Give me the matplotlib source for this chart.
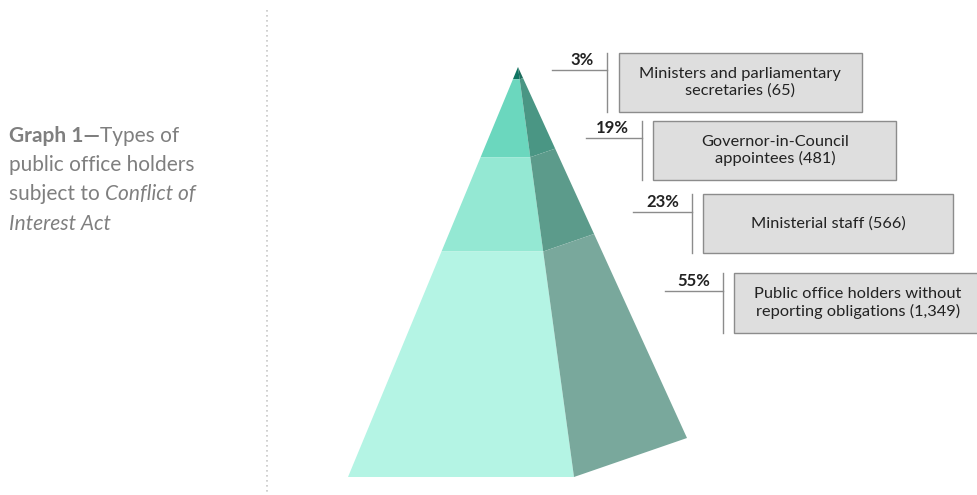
import matplotlib.pyplot as plt
from matplotlib.patches import Polygon, Rectangle

plt.rcParams['font.family'] = ['Lato', 'DejaVu Sans']

# data
categories = ['Ministers and parliamentary\nsecretaries', 'Governor-in-Council\nappointees',
              'Ministerial staff', 'Public office holders without\nreporting obligations']
counts = [65, 481, 566, 1349]
shares = [3, 19, 23, 55]

front_colors = ['#0f7562', '#6bd7be', '#94e8d3', '#b4f4e4']
side_colors = ['#1e6e5e', '#4a9684', '#5c9b8b', '#79a89c']

fig = plt.figure(figsize=(9.78, 4.95), dpi=100)
ax = fig.add_axes([0, 0, 1, 1])
ax.set_xlim(0, 978)
ax.set_ylim(495, 0)
ax.axis('off')

# pyramid corners (pixel-like coords)
apex = (518, 67)
base_left = (348, 477)
base_front = (574, 477)
base_right = (687, 438)


def along(p, t):
    return (apex[0] + t * (p[0] - apex[0]), apex[1] + t * (p[1] - apex[1]))


total = sum(shares)
t0 = 0.0
for s, fc, sc in zip(shares, front_colors, side_colors):
    t1 = t0 + s / total
    front = [along(base_left, t0), along(base_front, t0), along(base_front, t1), along(base_left, t1)]
    side = [along(base_front, t0), along(base_right, t0), along(base_right, t1), along(base_front, t1)]
    ax.add_patch(Polygon(front, closed=True, facecolor=fc, edgecolor='none'))
    ax.add_patch(Polygon(side, closed=True, facecolor=sc, edgecolor='none'))
    t0 = t1

# callouts: (hline start, vline x, box left, box right, top, bottom, hline y, text centre x)
callouts = [
    (552, 607, 619, 862, 53, 112, 70, 740),
    (586, 642, 653, 896, 121, 180, 138, 775),
    (633, 692, 703, 953, 194, 253, 212, 828),
    (665, 723, 734, 990, 273, 333, 291, 858),
]
for (hx, vx, bl, br, top, bot, hy, cx), cat, n, s in zip(callouts, categories, counts, shares):
    ax.plot([hx, vx], [hy, hy], color='#8c8c8c', lw=1)
    ax.plot([vx, vx], [top, bot], color='#8c8c8c', lw=1)
    ax.add_patch(Rectangle((bl, top), br - bl, bot - top, facecolor='#dedede',
                           edgecolor='#8c8c8c', lw=1))
    ax.text(cx, (top + bot) / 2, f'{cat} ({n:,})', ha='center', va='center',
            fontsize=11.8, color='#222222', linespacing=1.2)
    ax.text(vx - 13, hy - 2, f'{s}%', ha='right', va='bottom', fontsize=12,
            fontweight='bold', color='#222222')

# dotted divider
ax.plot([267, 267], [10, 495], color='#c8c8c8', lw=1.2, ls=(0, (1, 2)))

# title block with mixed styles
grey = '#7f7f7f'
fs = 15
lines = [
    [('Graph 1\u2014', 'bold', 'normal'), ('Types of', 'normal', 'normal')],
    [('public office holders', 'normal', 'normal')],
    [('subject to ', 'normal', 'normal'), ('Conflict of', 'normal', 'italic')],
    [('Interest Act', 'normal', 'italic')],
]
baselines = [142, 171, 200, 230]
fig.canvas.draw()
renderer = fig.canvas.get_renderer()
inv = ax.transData.inverted()
for parts, yb in zip(lines, baselines):
    x = 9
    for txt, w, st in parts:
        t = ax.text(x, yb, txt, fontsize=fs, fontweight=w, fontstyle=st,
                    color=grey, ha='left', va='baseline')
        bb = t.get_window_extent(renderer=renderer)
        x = inv.transform((bb.x1, bb.y0))[0]

fig.savefig('out.png', dpi=100)
